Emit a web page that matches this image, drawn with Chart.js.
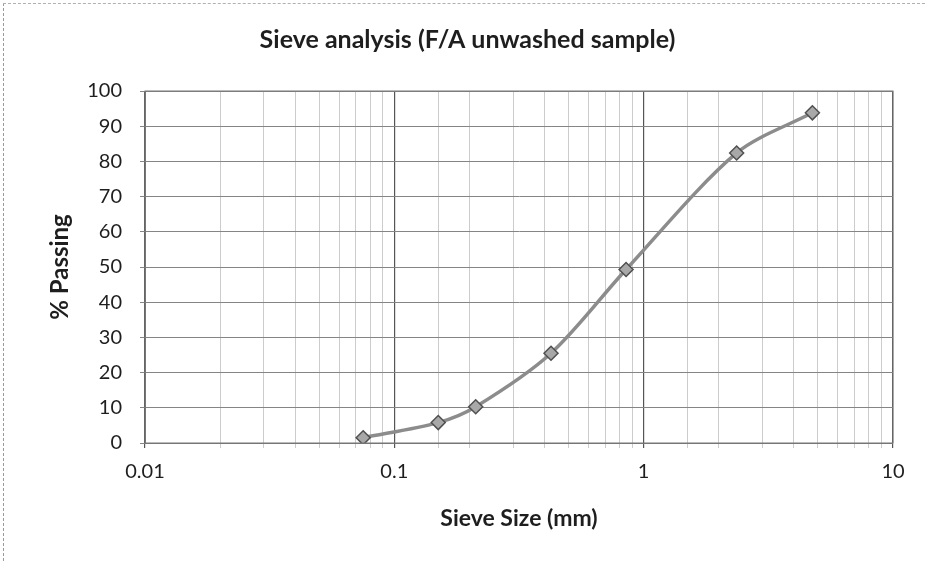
<!doctype html>
<html lang="en">
  <head>
    <meta charset="utf-8">
    <title>Sieve analysis</title>
    <style>
      * { margin: 0; padding: 0; }
      body { background: #fff; }
      .chartBox {
        width: 925px;
        height: 561px;
        position: relative;
      }
      .frame {
        position: absolute;
        left: 3px; top: 3px; right: -10px; bottom: -10px;
        border-left: 1px dashed #9a9a9a;
        border-top: 1px dashed #b0b0b0;
        pointer-events: none;
      }
    </style>
  </head>
  <body>
    <div class="chartBox">
      <canvas id="myChart" width="925" height="561"></canvas>
      <div class="frame"></div>
    </div>
    <script src="https://cdn.jsdelivr.net/npm/chart.js"></script>
    <script>
    // data
    const sieveSizes = [0.075, 0.15, 0.212, 0.425, 0.85, 2.36, 4.75];
    const percentPassing = [1.5, 5.8, 10.3, 25.5, 49.3, 82.4, 93.8];
    const yTicks = [0, 10, 20, 30, 40, 50, 60, 70, 80, 90, 100];
    const xDecades = [0.01, 0.1, 1, 10];

    const points = sieveSizes.map((s, i) => ({ x: s, y: percentPassing[i] }));

    function isDecade(v) {
      const e = Math.log10(v);
      return Math.abs(e - Math.round(e)) < 1e-6;
    }

    const textColor = '#1e1e1e';
    const fontFamily = 'Lato, "Open Sans", sans-serif';

    // setup
    const data = {
      datasets: [{
        label: '% Passing',
        data: points,
        borderColor: '#8c8c8c',
        borderWidth: 3.5,
        tension: 0.3,
        pointStyle: 'rectRot',
        pointRadius: 7,
        pointBackgroundColor: '#a8a8a8',
        pointBorderColor: '#505050',
        pointBorderWidth: 1.5
      }]
    };

    // config
    const config = {
      type: 'line',
      data,
      options: {
        responsive: false,
        animation: false,
        layout: { padding: { left: 42, right: 32, top: 20, bottom: 25 } },
        plugins: {
          legend: { display: false },
          tooltip: { enabled: false },
          title: {
            display: true,
            text: 'Sieve analysis (F/A unwashed sample)',
            color: textColor,
            font: { family: fontFamily, size: 25, weight: 'bold' },
            padding: { top: 5, bottom: 36 }
          }
        },
        scales: {
          x: {
            type: 'logarithmic',
            min: xDecades[0],
            max: xDecades[xDecades.length - 1],
            afterFit: s => { s.height = 93; },
            grid: {
              color: ctx => isDecade(ctx.tick.value) ? '#555555' : '#cccccc',
              lineWidth: ctx => isDecade(ctx.tick.value) ? 1.2 : 1,
              tickLength: 5
            },
            border: { color: '#777777', width: 1 },
            ticks: {
              autoSkip: false,
              maxRotation: 0,
              color: textColor,
              padding: 12,
              font: { family: fontFamily, size: 20 },
              callback: v => isDecade(v) ? String(Number(v.toPrecision(1))) : ''
            },
            title: {
              display: true,
              text: 'Sieve Size (mm)',
              color: textColor,
              font: { family: fontFamily, size: 23, weight: 'bold' },
              padding: { top: 4, bottom: 4 }
            }
          },
          y: {
            min: 0,
            max: 100,
            afterFit: s => { s.width = 103; },
            afterBuildTicks: s => { s.ticks = yTicks.map(v => ({ value: v })); },
            grid: { color: '#858585', lineWidth: 1, tickLength: 5 },
            border: { color: '#777777', width: 1 },
            ticks: {
              color: textColor,
              padding: 18,
              font: { family: fontFamily, size: 20 }
            },
            title: {
              display: true,
              text: '% Passing',
              color: textColor,
              font: { family: fontFamily, size: 24, weight: 'bold' },
              padding: { top: 4, bottom: 4 }
            }
          }
        }
      },
      plugins: [{
        id: 'plotBorder',
        afterDraw(chart) {
          const { ctx, chartArea: a } = chart;
          ctx.save();
          ctx.strokeStyle = '#777777';
          ctx.lineWidth = 1;
          ctx.strokeRect(a.left, a.top, a.right - a.left, a.bottom - a.top);
          ctx.restore();
        }
      }]
    };

    // render init block
    const myChart = new Chart(document.getElementById('myChart'), config);
    </script>
  </body>
</html>
